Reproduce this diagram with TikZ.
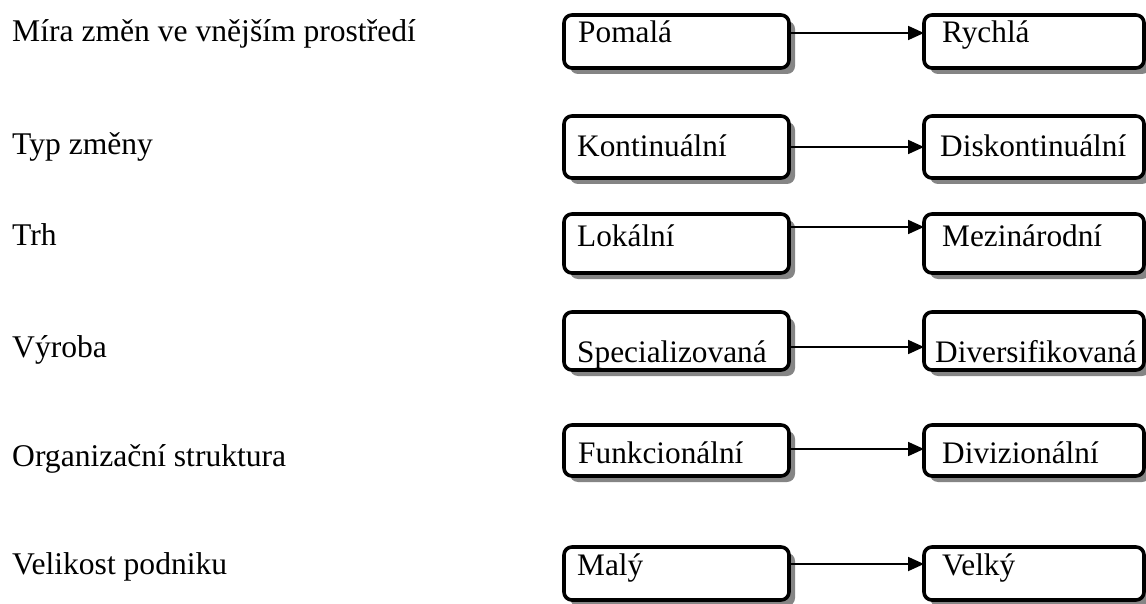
\documentclass[tikz,border=0pt]{standalone}
\usepackage{fontspec}
\setmainfont{Liberation Serif}
\usetikzlibrary{arrows.meta,shadows}
\begin{document}
\begin{tikzpicture}[x=1pt,y=-1pt,
  stagebox/.style={draw=black, line width=3.6pt, rounded corners=8pt, fill=white,
    drop shadow={shadow xshift=6pt, shadow yshift=-6pt, fill=black!48, opacity=1},
    anchor=north west, inner sep=0pt, outer sep=0pt},
  leftbox/.style={stagebox, minimum width=225pt},
  rightbox/.style={stagebox, minimum width=220pt},
  boxtext/.style={anchor=base west, inner sep=0pt, font=\fontsize{31.3}{36}\selectfont},
  rowlabel/.style={anchor=base west, inner sep=0pt, font=\fontsize{31.6}{36}\selectfont},
  arr/.style={line width=1.8pt, -{Triangle[length=16pt,width=14pt]}}]
\useasboundingbox[fill=white] (0,0) rectangle (1146,604);

% row labels
\node[rowlabel] (t1) at (12,42)  {Míra změn ve vnějším prostředí};
\node[rowlabel] (t2) at (12,155) {Typ změny};
\node[rowlabel] (t3) at (12,246) {Trh};
\node[rowlabel] (t4) at (12,357) {Výroba};
\node[rowlabel] (t5) at (12,466) {Organizační struktura};
\node[rowlabel] (t6) at (12,574) {Velikost podniku};

% boxes: left column
\node[leftbox, minimum height=53pt] (l1) at (564,15)  {};
\node[leftbox, minimum height=62pt] (l2) at (564,116) {};
\node[leftbox, minimum height=59pt] (l3) at (564,214) {};
\node[leftbox, minimum height=58pt] (l4) at (564,312) {};
\node[leftbox, minimum height=51pt] (l5) at (564,425) {};
\node[leftbox, minimum height=53pt] (l6) at (564,547) {};

% boxes: right column
\node[rightbox, minimum height=53pt] (r1) at (924,15)  {};
\node[rightbox, minimum height=62pt] (r2) at (924,116) {};
\node[rightbox, minimum height=59pt] (r3) at (924,214) {};
\node[rightbox, minimum height=58pt] (r4) at (924,312) {};
\node[rightbox, minimum height=51pt] (r5) at (924,425) {};
\node[rightbox, minimum height=53pt] (r6) at (924,547) {};

% box texts
\node[boxtext] (pl1) at (578,43)  {Pomalá};
\node[boxtext] (pr1) at (942,43)  {Rychlá};
\node[boxtext] (pl2) at (577,157) {Kontinuální};
\node[boxtext] (pr2) at (940,157) {Diskontinuální};
\node[boxtext] (pl3) at (577,247) {Lokální};
\node[boxtext] (pr3) at (942,247) {Mezinárodní};
\node[boxtext] (pl4) at (577,362) {Specializovaná};
\node[boxtext] (pr4) at (935,362) {Diversifikovaná};
\node[boxtext] (pl5) at (578,463) {Funkcionální};
\node[boxtext] (pr5) at (942,463) {Divizionální};
\node[boxtext] (pl6) at (577,575) {Malý};
\node[boxtext] (pr6) at (942,575) {Velký};

% arrow heights
\coordinate (a1) at (0,33);
\coordinate (a2) at (0,147);
\coordinate (a3) at (0,227);
\coordinate (a4) at (0,347);
\coordinate (a5) at (0,449);
\coordinate (a6) at (0,564);

% connectors
\draw[arr] (l1.east |- a1) -- (r1.west |- a1);
\draw[arr] (l2.east |- a2) -- (r2.west |- a2);
\draw[arr] (l3.east |- a3) -- (r3.west |- a3);
\draw[arr] (l4.east |- a4) -- (r4.west |- a4);
\draw[arr] (l5.east |- a5) -- (r5.west |- a5);
\draw[arr] (l6.east |- a6) -- (r6.west |- a6);
\end{tikzpicture}
\end{document}
